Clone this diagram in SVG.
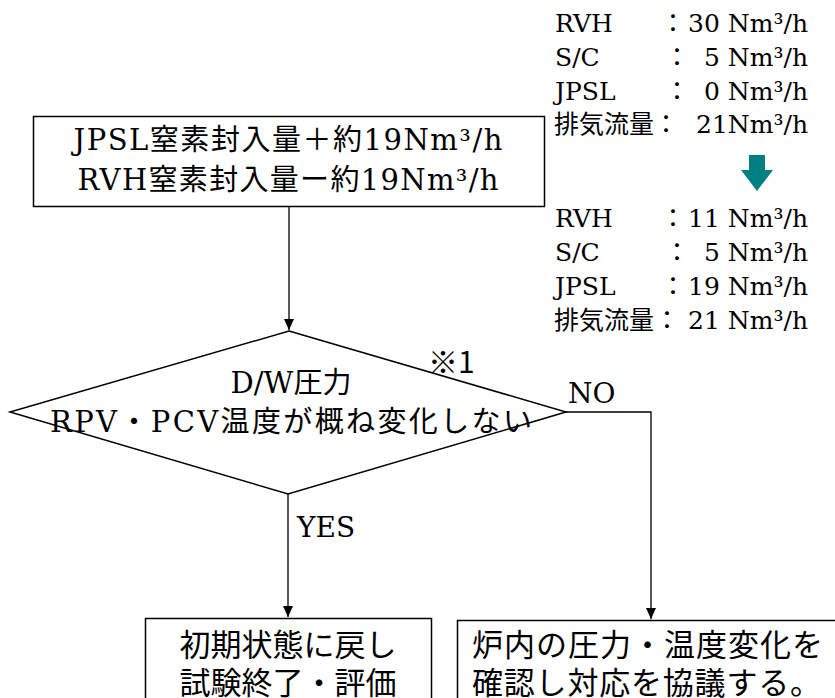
<svg xmlns="http://www.w3.org/2000/svg" width="835" height="698" viewBox="0 0 835 698">
<defs>
<style>
.box{fill:#fff;stroke:#000;stroke-width:1.5}
.ln{fill:none;stroke:#000;stroke-width:1.3}
.mx{font-family:"DejaVu Serif","Noto Sans CJK JP",serif;fill:#000}
.jp{font-family:"Noto Sans CJK JP",sans-serif;fill:#000}
.tb{font-family:"DejaVu Serif","Noto Sans CJK JP",serif;font-size:25px;fill:#000}
</style>
<marker id="ah" markerWidth="12" markerHeight="12" refX="11" refY="5" orient="auto" markerUnits="userSpaceOnUse">
<path d="M0,0 L11,5 L0,10 Z" fill="#000"/>
</marker>
</defs>

<g id="connectors">
<path class="ln" d="M289,207 V330" marker-end="url(#ah)"/>
<path class="ln" d="M288,494 V617" marker-end="url(#ah)"/>
<path class="ln" d="M566,412 H651 V619" marker-end="url(#ah)"/>
</g>

<g id="start">
<rect class="box" x="33.5" y="116.5" width="511" height="90"/>
<text class="mx" x="288" y="150" font-size="29" text-anchor="middle" textLength="429" lengthAdjust="spacing">JPSL窒素封入量＋約19Nm³/h</text>
<text class="mx" x="288" y="190" font-size="29" text-anchor="middle" textLength="421" lengthAdjust="spacing">RVH窒素封入量ー約19Nm³/h</text>
</g>

<g id="decision">
<polygon class="box" points="289,331 566,412 288,494 10,412"/>
<text class="mx" x="291" y="393" font-size="29" text-anchor="middle">D/W圧力</text>
<text class="mx" x="291" y="432" font-size="29" text-anchor="middle" textLength="482" lengthAdjust="spacing">RPV・PCV温度が概ね変化しない</text>
<text class="jp" x="428" y="373" font-size="30">※1</text>
</g>

<g id="labels">
<text class="mx" x="568" y="403" font-size="28">NO</text>
<text class="mx" x="297" y="537" font-size="28">YES</text>
</g>

<g id="end-yes">
<rect class="box" x="145.5" y="618.5" width="286" height="90"/>
<text class="jp" x="288" y="656" font-size="31" text-anchor="middle">初期状態に戻し</text>
<text class="jp" x="288" y="694" font-size="31" text-anchor="middle">試験終了・評価</text>
</g>

<g id="end-no">
<rect class="box" x="457.5" y="620.5" width="390" height="90"/>
<text class="jp" x="472" y="656" font-size="31" textLength="351" lengthAdjust="spacing">炉内の圧力・温度変化を</text>
<text class="jp" x="472" y="694" font-size="31" textLength="349" lengthAdjust="spacing">確認し対応を協議する。</text>
</g>

<g id="flow-before">
<text class="tb" x="555" y="32">RVH</text>
<text class="tb" x="673" y="32" text-anchor="middle">：</text>
<text class="tb" x="808" y="32" text-anchor="end">30 Nm³/h</text>
<text class="tb" x="555" y="66">S/C</text>
<text class="tb" x="677" y="66" text-anchor="middle">：</text>
<text class="tb" x="808" y="66" text-anchor="end">5 Nm³/h</text>
<text class="tb" x="555" y="100">JPSL</text>
<text class="tb" x="677" y="100" text-anchor="middle">：</text>
<text class="tb" x="808" y="100" text-anchor="end">0 Nm³/h</text>
<text class="tb" x="554" y="133">排気流量</text>
<text class="tb" x="666" y="133" text-anchor="middle">：</text>
<text class="tb" x="808" y="133" text-anchor="end">21Nm³/h</text>
</g>

<g id="arrow-down">
<polygon points="749,155 765,155 765,170 773,170 757,191 741,170 749,170" fill="#008080"/>
</g>

<g id="flow-after">
<text class="tb" x="555" y="227">RVH</text>
<text class="tb" x="673" y="227" text-anchor="middle">：</text>
<text class="tb" x="808" y="227" text-anchor="end">11 Nm³/h</text>
<text class="tb" x="555" y="261">S/C</text>
<text class="tb" x="677" y="261" text-anchor="middle">：</text>
<text class="tb" x="808" y="261" text-anchor="end">5 Nm³/h</text>
<text class="tb" x="555" y="295">JPSL</text>
<text class="tb" x="673" y="295" text-anchor="middle">：</text>
<text class="tb" x="808" y="295" text-anchor="end">19 Nm³/h</text>
<text class="tb" x="554" y="329">排気流量</text>
<text class="tb" x="667" y="329" text-anchor="middle">：</text>
<text class="tb" x="808" y="329" text-anchor="end">21 Nm³/h</text>
</g>
</svg>
